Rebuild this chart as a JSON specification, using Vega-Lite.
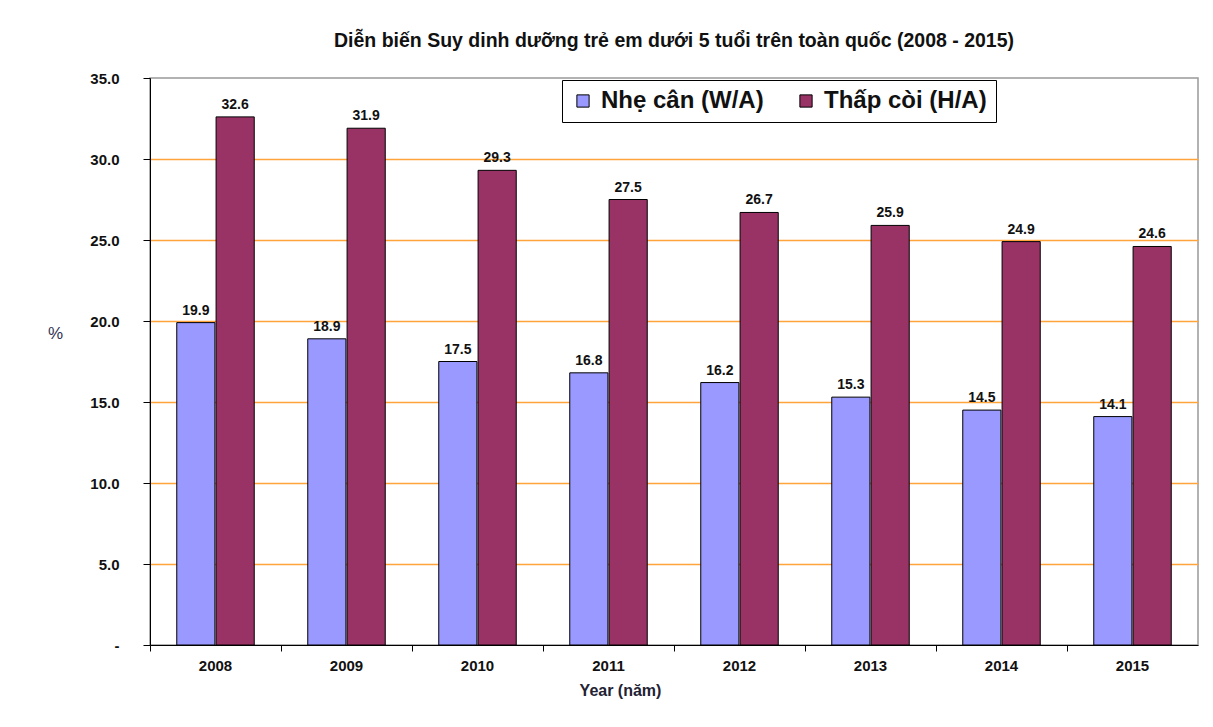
{
  "$schema": "https://vega.github.io/schema/vega-lite/v6.json",
  "width": 1048,
  "height": 567,
  "autosize": "none",
  "padding": {"left": 150, "top": 78, "right": 15, "bottom": 82},
  "background": "#ffffff",
  "title": {
    "text": "Diễn biến Suy dinh dưỡng trẻ em dưới 5 tuổi trên toàn quốc (2008 - 2015)",
    "font": "Liberation Sans",
    "fontSize": 19.5,
    "fontWeight": "bold",
    "color": "#111111",
    "anchor": "middle",
    "offset": 20
  },
  "data": {
    "values": [
      {"year": "2008", "series": "Nhẹ cân (W/A)", "value": 19.9},
      {"year": "2009", "series": "Nhẹ cân (W/A)", "value": 18.9},
      {"year": "2010", "series": "Nhẹ cân (W/A)", "value": 17.5},
      {"year": "2011", "series": "Nhẹ cân (W/A)", "value": 16.8},
      {"year": "2012", "series": "Nhẹ cân (W/A)", "value": 16.2},
      {"year": "2013", "series": "Nhẹ cân (W/A)", "value": 15.3},
      {"year": "2014", "series": "Nhẹ cân (W/A)", "value": 14.5},
      {"year": "2015", "series": "Nhẹ cân (W/A)", "value": 14.1},
      {"year": "2008", "series": "Thấp còi (H/A)", "value": 32.6},
      {"year": "2009", "series": "Thấp còi (H/A)", "value": 31.9},
      {"year": "2010", "series": "Thấp còi (H/A)", "value": 29.3},
      {"year": "2011", "series": "Thấp còi (H/A)", "value": 27.5},
      {"year": "2012", "series": "Thấp còi (H/A)", "value": 26.7},
      {"year": "2013", "series": "Thấp còi (H/A)", "value": 25.9},
      {"year": "2014", "series": "Thấp còi (H/A)", "value": 24.9},
      {"year": "2015", "series": "Thấp còi (H/A)", "value": 24.6}
    ]
  },
  "encoding": {
    "x": {
      "field": "year",
      "type": "nominal",
      "scale": {"paddingInner": 0, "paddingOuter": 0},
      "axis": {
        "title": "Year (năm)",
        "labelAngle": 0,
        "labelFont": "Liberation Sans",
        "labelFontSize": 15,
        "labelFontWeight": "bold",
        "labelColor": "#111111",
        "labelPadding": 7,
        "bandPosition": 0,
        "tickSize": 6,
        "tickColor": "#000000",
        "domainColor": "#000000",
        "titleFont": "Liberation Sans",
        "titleFontSize": 16,
        "titleFontWeight": "bold",
        "titleColor": "#222233",
        "titleX": 470,
        "titleY": 45,
        "titleBaseline": "middle"
      }
    },
    "y": {
      "field": "value",
      "type": "quantitative",
      "scale": {"domain": [0, 35], "nice": false},
      "axis": {
        "values": [0, 5, 10, 15, 20, 25, 30, 35],
        "labelExpr": "datum.value == 0 ? '-' : format(datum.value, '.1f')",
        "title": "%",
        "titleAngle": 0,
        "titleX": -95,
        "titleY": 255,
        "titleAlign": "center",
        "titleBaseline": "middle",
        "titleFont": "Liberation Sans",
        "titleFontSize": 17,
        "titleFontWeight": "normal",
        "titleColor": "#333355",
        "labelFont": "Liberation Sans",
        "labelFontSize": 15,
        "labelFontWeight": "bold",
        "labelColor": "#111111",
        "labelPadding": 24,
        "tickSize": 7,
        "tickColor": "#000000",
        "domainColor": "#000000",
        "grid": true,
        "gridColor": {
          "condition": {"test": "datum.value >= 35 || datum.value == 0", "value": "transparent"},
          "value": "#FFA43A"
        },
        "gridWidth": 1.5
      }
    }
  },
  "layer": [
    {
      "mark": {"type": "bar", "stroke": "#000000", "strokeWidth": 1},
      "encoding": {
        "xOffset": {"field": "series", "type": "nominal", "scale": {"paddingInner": 0.03, "paddingOuter": 0.68}},
        "color": {
          "field": "series",
          "type": "nominal",
          "scale": {"domain": ["Nhẹ cân (W/A)", "Thấp còi (H/A)"], "range": ["#9999FF", "#993366"]},
          "legend": {
            "title": null,
            "orient": "none",
            "legendX": 412,
            "legendY": 2,
            "direction": "horizontal",
            "strokeColor": "#000000",
            "fillColor": "#ffffff",
            "padding": 9,
            "labelFont": "Liberation Sans",
            "labelFontSize": 24,
            "labelFontWeight": "bold",
            "labelColor": "#111111",
            "labelLimit": 400,
            "symbolType": "square",
            "symbolSize": 150,
            "symbolStrokeColor": "#000000",
            "symbolStrokeWidth": 1,
            "columnPadding": 30,
            "labelOffset": 6
          }
        }
      }
    },
    {
      "mark": {"type": "text", "dy": -12, "font": "Liberation Sans", "fontSize": 14, "fontWeight": "bold", "color": "#111111"},
      "encoding": {
        "xOffset": {"field": "series", "type": "nominal", "scale": {"paddingInner": 0.03, "paddingOuter": 0.68}},
        "text": {"field": "value", "type": "quantitative", "format": ".1f"}
      }
    }
  ],
  "config": {
    "view": {"stroke": "#999999", "strokeWidth": 1.5}
  }
}
